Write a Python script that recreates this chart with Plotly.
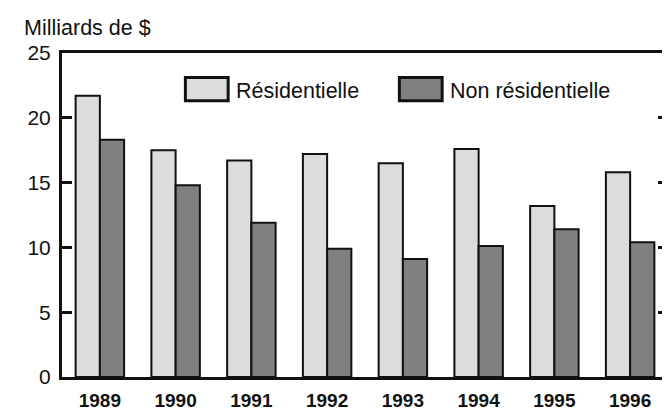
import plotly.graph_objects as go

years = ["1989", "1990", "1991", "1992", "1993", "1994", "1995", "1996"]
residentielle = [21.7, 17.5, 16.7, 17.2, 16.5, 17.6, 13.2, 15.8]
non_residentielle = [18.3, 14.8, 11.9, 9.9, 9.1, 10.1, 11.4, 10.4]
y_ticks = [0, 5, 10, 15, 20, 25]

LIGHT = "#dcdcdc"
DARK = "#808080"
FONT = "Liberation Sans, Arial, sans-serif"
SIZE = 21.5

fig = go.Figure()
fig.add_trace(go.Bar(
    x=years, y=residentielle, name="Résidentielle",
    marker=dict(color=LIGHT, line=dict(color="#111", width=2)),
))
fig.add_trace(go.Bar(
    x=years, y=non_residentielle, name="Non résidentielle",
    marker=dict(color=DARK, line=dict(color="#111", width=2)),
))

# legend drawn by hand to get the large boxed swatches
legend_items = [("Résidentielle", LIGHT, 0.2036), ("Non résidentielle", DARK, 0.5567)]
for label, color, x0 in legend_items:
    fig.add_shape(
        type="rect", xref="paper", yref="paper",
        x0=x0, x1=x0 + 0.0706, y0=0.8524, y1=0.9247,
        fillcolor=color, line=dict(color="#111", width=3),
    )
    fig.add_annotation(
        text=label, xref="paper", yref="paper",
        x=x0 + 0.0805, y=0.884, xanchor="left", yanchor="middle",
        showarrow=False, font=dict(size=SIZE, color="#111"),
    )

fig.add_annotation(
    text="Milliards de $", xref="paper", yref="paper",
    x=-0.0657, y=1.076, xanchor="left", yanchor="middle",
    showarrow=False, font=dict(size=SIZE, color="#111"),
)

fig.update_layout(
    width=670, height=410,
    margin=dict(l=54, r=7, t=45, b=33),
    paper_bgcolor="white", plot_bgcolor="white",
    font=dict(family=FONT, size=21, color="#111"),
    barmode="group", bargap=0.36, bargroupgap=0,
    showlegend=False,
)
fig.update_xaxes(
    showline=True, linecolor="#111", linewidth=3, mirror=True,
    ticks="", showgrid=False, ticklabelstandoff=4,
    tickfont=dict(size=19, family=FONT, weight="bold"),
)
fig.update_yaxes(
    range=[0, 25], tickvals=y_ticks,
    showline=True, linecolor="#111", linewidth=3, mirror="ticks",
    ticks="inside", ticklen=10, tickwidth=3, tickcolor="#111",
    showgrid=False, zeroline=False, ticklabelstandoff=4,
)

fig.write_html("out.html")
